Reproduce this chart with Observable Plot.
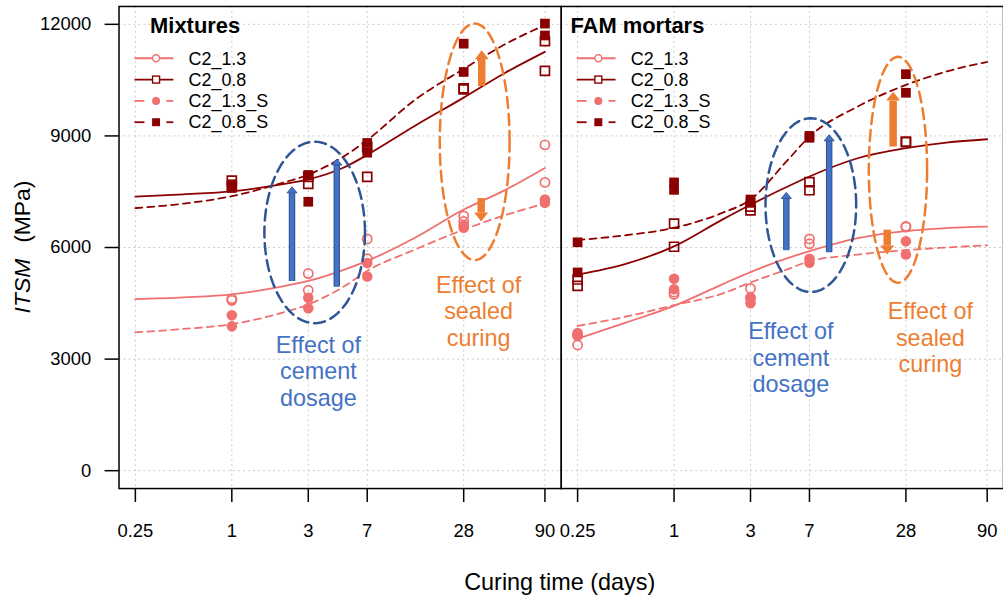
<!DOCTYPE html>
<html><head><meta charset="utf-8">
<script src="https://cdn.jsdelivr.net/npm/d3@7"></script>
<script src="https://cdn.jsdelivr.net/npm/@observablehq/plot@0.6"></script>
<style>
html,body{margin:0;padding:0;overflow:hidden;background:#fff;}
#chart{position:relative;width:1003px;height:605px;overflow:hidden;}
</style></head><body><div id="chart"></div>
<script>
// ---------- data ----------
const panels = ["Mixtures", "FAM mortars"];
const seriesNames = ["C2_1.3", "C2_0.8", "C2_1.3_S", "C2_0.8_S"];
const xTicks = [0.25, 1, 3, 7, 28, 90];
const yTicks = [0, 3000, 6000, 9000, 12000];

// measured ITSM (MPa), two replicates per curing age
const mixDays = [1, 3, 7, 28, 90];
const mixC13  = [[4620,4580],[5300,4850],[6230,5700],[6850,6700],[8760,7750]];
const mixC08  = [[7800,7650],[7900,7710],[8700,7900],[10280,10250],[11550,10750]];
const mixC13S = [[4180,3880],[4650,4370],[5580,5220],[6600,6530],[7290,7200]];
const mixC08S = [[7700,7600],[7950,7230],[8810,8550],[11480,10720],[12020,11700]];

const famDays = [0.25, 1, 3, 7, 28];
const famC13  = [[3380,3640],[4800,4740],[4900,4650],[6230,6100],[6570,6550]];
const famC08  = [[5140,4970],[6640,6020],[7000,7100],[7760,7540],[8850,8830]];
const famC13S = [[3700,3620],[5160,4880],[4650,4500],[5700,5590],[6170,5810]];
const famC08S = [[6140,5330],[7750,7550],[7290,7200],[9000,8950],[10660,10160]];

// fitted curves
const fitDays   = [0.25, 0.5, 1, 2, 3, 5, 7, 14, 28, 50, 90];
const mixFitC13  = [4610,4660,4740,4940,5100,5400,5640,6270,7020,7530,8140];
const mixFitC08  = [7370,7430,7510,7690,7830,8150,8490,9280,10030,10680,11260];
const mixFitC13S = [3720,3810,3940,4230,4470,4950,5370,5950,6480,6860,7180];
const mixFitC08S = [7060,7180,7380,7720,7960,8450,8890,9980,10800,11450,11980];
const famFitC13  = [3550,3980,4430,5010,5340,5700,5900,6250,6440,6520,6560];
const famFitC08  = [5270,5560,6030,6750,7150,7620,7910,8400,8670,8820,8910];
const famFitC13S = [3890,4140,4450,4760,5060,5400,5630,5810,5930,6000,6060];
const famFitC08S = [6200,6330,6530,6930,7290,8300,8980,9790,10370,10730,10990];

// annotations
const ellPanel = ["Mixtures", "Mixtures", "FAM mortars", "FAM mortars"];
const ellKind  = ["blue", "orange", "blue", "orange"];
const ellDay   = [3.29, 32.8, 7.14, 24.97];
const ellItsm  = [6405, 8841, 7140, 8090];
const ellHalfDecades = [0.314, 0.218, 0.283, 0.182];
const ellHalfItsm    = [2440, 3180, 2336, 3036];

const blueArrowPanel = ["Mixtures", "Mixtures", "FAM mortars", "FAM mortars"];
const blueArrowDay   = [2.375, 4.52, 5.02, 9.29];
const blueArrowFrom  = [5100, 4950, 5930, 5875];
const blueArrowTo    = [7630, 8380, 7480, 9030];

const orangeArrowPanel = ["Mixtures", "Mixtures", "FAM mortars", "FAM mortars"];
const orangeArrowDay   = [36.3, 36.0, 23.3, 21.4];
const orangeArrowFrom  = [10340, 7330, 8715, 6480];
const orangeArrowTo    = [11305, 6700, 10190, 5813];

const textPanel = ["Mixtures", "FAM mortars"];
const blueTextDay = [3.47, 5.36];
const blueTextItsm = [2690, 3046];
const orangeTextDay = [34.7, 39.8];
const orangeTextItsm = [4294, 3582];
const blueText = "Effect of\ncement\ndosage";
const orangeText = "Effect of\nsealed\ncuring";

// ---------- layout & styles ----------
const W = 1007, H = 605;
const mL = 119, mR = 0, mT = 6, mB = 115;
const xDomain = [0.1977, 113.8];
const yDomain = [-480, 12480];
const FONT = "'Liberation Sans', Arial, sans-serif";
const LIGHT = "#F07070", DARK = "#8B0000";
const BLUE = "#4472C4", NAVY = "#2F5597", ORANGE = "#ED7D31";
const DASH = "7,5";
const seriesStyle = {
  "C2_1.3":   {color: LIGHT, dash: null, symbol: "circle", filled: false, r: 4.6},
  "C2_0.8":   {color: DARK,  dash: null, symbol: "square", filled: false, r: 5.1},
  "C2_1.3_S": {color: LIGHT, dash: DASH, symbol: "circle", filled: true,  r: 5.3},
  "C2_0.8_S": {color: DARK,  dash: DASH, symbol: "square", filled: true,  r: 5.5}
};

// ---------- tables ----------
function toRows(panel, series, days, vals) {
  return days.flatMap((d, i) => vals[i].map(v => ({panel, series, day: d, itsm: v})));
}
function fitRows(panel, series, vals) {
  return fitDays.map((d, i) => ({panel, series, day: d, itsm: vals[i]}));
}
const points = [
  ...toRows("Mixtures", "C2_1.3", mixDays, mixC13),
  ...toRows("Mixtures", "C2_0.8", mixDays, mixC08),
  ...toRows("Mixtures", "C2_1.3_S", mixDays, mixC13S),
  ...toRows("Mixtures", "C2_0.8_S", mixDays, mixC08S),
  ...toRows("FAM mortars", "C2_1.3", famDays, famC13),
  ...toRows("FAM mortars", "C2_0.8", famDays, famC08),
  ...toRows("FAM mortars", "C2_1.3_S", famDays, famC13S),
  ...toRows("FAM mortars", "C2_0.8_S", famDays, famC08S)
];
const fits = [
  ...fitRows("Mixtures", "C2_1.3", mixFitC13),
  ...fitRows("Mixtures", "C2_0.8", mixFitC08),
  ...fitRows("Mixtures", "C2_1.3_S", mixFitC13S),
  ...fitRows("Mixtures", "C2_0.8_S", mixFitC08S),
  ...fitRows("FAM mortars", "C2_1.3", famFitC13),
  ...fitRows("FAM mortars", "C2_0.8", famFitC08),
  ...fitRows("FAM mortars", "C2_1.3_S", famFitC13S),
  ...fitRows("FAM mortars", "C2_0.8_S", famFitC08S)
];

// ellipse outlines (screen-aligned in log-x space)
const ellipseRows = ellPanel.flatMap((p, k) => d3.range(0, 97).map(j => {
  const t = j / 96 * 2 * Math.PI;
  return {panel: p, id: k, kind: ellKind[k],
    day: ellDay[k] * Math.pow(10, ellHalfDecades[k] * Math.cos(t)),
    itsm: ellItsm[k] + ellHalfItsm[k] * Math.sin(t)};
}));

const unitsPerPx = (yDomain[1] - yDomain[0]) / (H - mB - mT);
function arrowRows(panel, day, from, to, headH) {
  return panel.map((p, i) => {
    const s = Math.sign(to[i] - from[i]);
    return {panel: p, day: day[i], from: from[i], to: to[i], up: s > 0,
            base: to[i] - s * headH * unitsPerPx};
  });
}
const blueArrows = arrowRows(blueArrowPanel, blueArrowDay, blueArrowFrom, blueArrowTo, 6);
const orangeArrows = arrowRows(orangeArrowPanel, orangeArrowDay, orangeArrowFrom, orangeArrowTo, 9);

function head(w, h, up) {
  const s = up ? 1 : -1;
  return {draw(ctx) { ctx.moveTo(0, 0); ctx.lineTo(w / 2, s * h); ctx.lineTo(-w / 2, s * h); ctx.closePath(); }};
}

const texts = (days, vals, label) => textPanel.map((p, i) => ({panel: p, day: days[i], itsm: vals[i], label}));

// ---------- marks ----------
const marks = [
  Plot.gridX(xTicks, {stroke: "#cccccc", strokeOpacity: 1, strokeDasharray: "2,3"}),
  Plot.gridY(yTicks, {stroke: "#cccccc", strokeOpacity: 1, strokeDasharray: "2,3"}),
  Plot.axisX({ticks: xTicks, tickFormat: () => "", tickSize: 14, strokeWidth: 1.5, label: null}),
  Plot.text(xTicks, {x: d => d, text: d => String(d), frameAnchor: "bottom", dy: 42.5,
              lineAnchor: "middle", fontSize: 18.5, fill: "black"}),
  Plot.axisY({ticks: yTicks, tickFormat: d => String(d), tickSize: 14, tickPadding: 14,
              fontSize: 18.5, strokeWidth: 1.5, label: null})
];
for (const s of seriesNames) {
  const st = seriesStyle[s];
  marks.push(Plot.line(fits.filter(d => d.series === s), {
    x: "day", y: "itsm", fx: "panel", stroke: st.color, strokeWidth: 1.8,
    strokeDasharray: st.dash, curve: "monotone-x"}));
}
for (const s of seriesNames) {
  const st = seriesStyle[s];
  const data = points.filter(d => d.series === s);
  marks.push(st.filled
    ? Plot.dot(data, {x: "day", y: "itsm", fx: "panel", symbol: st.symbol, r: st.r, fill: st.color, stroke: "none"})
    : Plot.dot(data, {x: "day", y: "itsm", fx: "panel", symbol: st.symbol, r: st.r, fill: "none", stroke: st.color, strokeWidth: 1.7}));
}
// ellipses
marks.push(Plot.line(ellipseRows.filter(d => d.kind === "blue"), {x: "day", y: "itsm", z: "id", fx: "panel",
  stroke: NAVY, strokeWidth: 2.5, strokeDasharray: "11,6", curve: "linear"}));
marks.push(Plot.line(ellipseRows.filter(d => d.kind === "orange"), {x: "day", y: "itsm", z: "id", fx: "panel",
  stroke: ORANGE, strokeWidth: 2.5, strokeDasharray: "11,6", curve: "linear"}));
// blue arrows
marks.push(Plot.link(blueArrows, {x1: "day", x2: "day", y1: "from", y2: "base", fx: "panel", stroke: NAVY, strokeWidth: 6.5, strokeLinecap: "butt"}));
marks.push(Plot.link(blueArrows, {x1: "day", x2: "day", y1: "from", y2: "base", fx: "panel", stroke: BLUE, strokeWidth: 4.3, strokeLinecap: "butt"}));
marks.push(Plot.dot(blueArrows, {x: "day", y: "to", fx: "panel", r: 5, symbol: head(10, 6, true), fill: BLUE, stroke: NAVY, strokeWidth: 1}));
// orange arrows
marks.push(Plot.link(orangeArrows, {x1: "day", x2: "day", y1: "from", y2: "base", fx: "panel", stroke: ORANGE, strokeWidth: 7.5, strokeLinecap: "butt"}));
marks.push(Plot.dot(orangeArrows.filter(d => d.up), {x: "day", y: "to", fx: "panel", r: 5, symbol: head(14, 9, true), fill: ORANGE}));
marks.push(Plot.dot(orangeArrows.filter(d => !d.up), {x: "day", y: "to", fx: "panel", r: 5, symbol: head(14, 9, false), fill: ORANGE}));
// annotation texts
marks.push(Plot.text(texts(blueTextDay, blueTextItsm, blueText), {x: "day", y: "itsm", fx: "panel", text: "label",
  fill: BLUE, fontSize: 23.5, lineHeight: 1.13, textAnchor: "middle"}));
marks.push(Plot.text(texts(orangeTextDay, orangeTextItsm, orangeText), {x: "day", y: "itsm", fx: "panel", text: "label",
  fill: ORANGE, fontSize: 23.5, lineHeight: 1.13, textAnchor: "middle"}));
marks.push(Plot.frame({stroke: "black", strokeWidth: 1.5}));

const chart = Plot.plot({
  width: W, height: H,
  marginLeft: mL, marginRight: mR, marginTop: mT, marginBottom: mB,
  style: {fontFamily: FONT, fontSize: "18px", background: "white", color: "black", overflow: "visible"},
  fx: {domain: panels, padding: 0, axis: null, label: null},
  x: {type: "log", domain: xDomain, label: null},
  y: {domain: yDomain, label: null},
  marks
});

// ---------- legends, panel titles, axis titles ----------
const svg = d3.select(chart);
const g = svg.append("g").attr("font-family", FONT).attr("text-anchor", "start");
const panelW = (W - mL - mR) / panels.length;
const titleDx = [31.7, 9.7];
panels.forEach((p, pi) => {
  const left = mL + pi * panelW;
  g.append("text").attr("x", left + titleDx[pi]).attr("y", 33).attr("text-anchor", "start")
    .attr("font-size", 22).attr("font-weight", "bold").text(p);
  seriesNames.forEach((s, i) => {
    const st = seriesStyle[s];
    const y = 58.5 + i * 21.4;
    const segs = st.dash ? [[16, 26], [48, 55]] : [[16, 55]];
    segs.forEach(([a, b]) => g.append("line").attr("x1", left + a).attr("x2", left + b)
      .attr("y1", y).attr("y2", y).attr("stroke", st.color).attr("stroke-width", 1.8));
    const cx = left + 37.7;
    if (st.symbol === "circle") {
      g.append("circle").attr("cx", cx).attr("cy", y).attr("r", st.filled ? 4 : 3.5)
        .attr("fill", st.filled ? st.color : "white").attr("stroke", st.filled ? "none" : st.color).attr("stroke-width", 1.4);
    } else {
      const a = st.filled ? 8 : 7;
      g.append("rect").attr("x", cx - a / 2).attr("y", y - a / 2).attr("width", a).attr("height", a)
        .attr("fill", st.filled ? st.color : "white").attr("stroke", st.filled ? "none" : st.color).attr("stroke-width", 1.4);
    }
    g.append("text").attr("x", left + 70.3).attr("y", y).attr("dy", "0.35em").attr("text-anchor", "start")
      .attr("font-size", 18).text(s);
  });
});
// y-axis title
const yt = g.append("text").attr("transform", "translate(30,248) rotate(-90)")
  .attr("text-anchor", "middle").attr("font-size", 23);
yt.append("tspan").attr("font-style", "italic").text("ITSM");
yt.append("tspan").attr("dx", 16).text("(MPa)");
// x-axis title
g.append("text").attr("x", 562).attr("y", 592).attr("text-anchor", "middle")
  .attr("font-size", 23.5).text("Curing time (days)");

document.getElementById("chart").appendChild(chart);
</script></body></html>
